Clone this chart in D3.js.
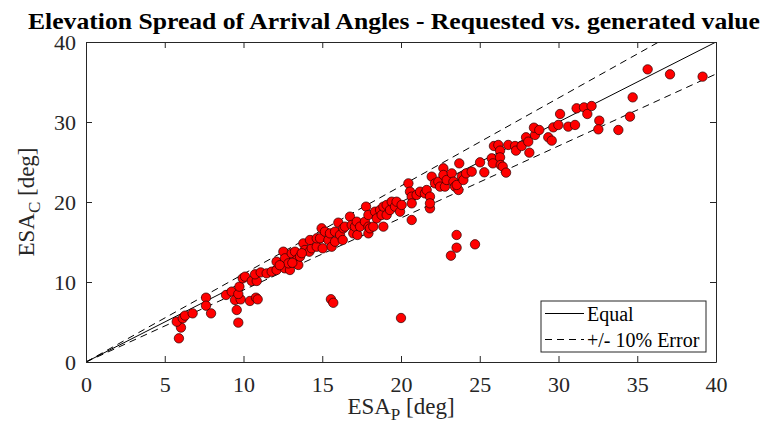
<!DOCTYPE html>
<html>
<head>
<meta charset="utf-8">
<script src="https://cdn.jsdelivr.net/npm/d3@7"></script>
<style>
  html, body { margin: 0; padding: 0; background: #fff; }
  svg { display: block; }
  text { font-family: "Liberation Serif", "Times New Roman", serif; }
</style>
</head>
<body>
<svg id="chart" width="763" height="428"></svg>
<script>
// ---- Data ----
const esaP = [
  5.9,6.03,5.76,6.14,6.29,6.77,7.62,7.62,7.94,9.57,9.67,8.89,9.25,9.46,9.82,9.67,9.74,9.95,10.1,10.41,10.79,10.9,10.52,10.84,10.73,11.09,11.47,
  11.79,12.1,12.1,12.53,12.63,12.63,12.95,12.85,13.06,13.27,13.38,13.48,13.59,13.8,13.9,14.18,14.33,14.22,14.65,14.65,14.86,14.96,15.03,15.17,15.39,15.49,15.6,15.81,15.81,16.02,16.13,16.34,16.3,16.44,16.76,16.87,16.97,17.08,17.19,17.23,17.4,17.71,17.93,17.93,17.78,17.93,12.3,13.1,13.7,
  18.03,18.24,18.35,18.46,18.67,18.77,18.88,18.88,19.09,19.09,19.3,19.41,19.62,19.72,19.94,20.04,20.47,20.57,20.68,20.68,20.68,20.99,21.21,21.52,21.63,21.84,21.84,21.84,
  21.95,22.16,22.37,22.69,22.69,22.48,22.79,22.9,23.22,23.33,23.43,23.65,23.54,23.7,23.86,23.96,24.13,24.49,25.02,25.29,25.76,25.83,25.9,26.18,26.29,26.29,26.33,26.46,26.67,26.81,27.24,27.3,27.66,27.94,28.08,28.15,
  28.51,28.44,28.78,29.35,29.57,29.67,29.99,30.1,30.62,31.05,31.15,31.62,31.83,32.1,32.59,32.53,
  35.66,37.08,39.15,34.71,34.54,33.8,
  15.55,15.7,20.0,23.53,23.53,24.7,23.17
];
const esaC = [
  2.96,4.3,5.04,5.46,5.8,6.08,8.04,7.04,6.08,6.5,4.92,8.38,8.8,7.75,7.83,8.5,9.42,10.46,10.67,7.63,8.04,7.83,10.13,10.13,10.96,11.2,11.08,
  11.29,11.5,12.54,13.79,12.96,11.71,11.5,12.33,13.58,13.79,12.75,12.13,13.17,14.83,14.0,13.79,14.21,15.25,14.41,15.46,15.46,16.71,14.21,16.29,15.25,16.08,14.41,15.04,16.29,17.42,15.88,16.71,15.25,16.92,18.17,17.13,16.08,16.92,17.54,15.88,16.92,17.54,16.92,16.08,19.42,18.38,12.1,12.4,13.6,
  16.71,16.92,18.79,17.96,19.0,18.38,16.92,19.42,19.63,18.38,19.0,20.04,19.42,20.04,18.79,19.63,22.33,21.29,20.67,19.83,17.75,20.88,21.29,21.08,21.5,20.67,19.21,19.83,
  23.17,22.33,22.54,24.21,23.38,21.92,21.92,22.75,23.58,22.54,21.92,21.5,22.13,24.83,23.17,22.75,23.58,23.79,24.96,23.71,25.46,24.83,27.0,27.13,26.42,25.58,24.63,24.42,23.67,27.13,27.0,26.42,27.0,28.09,27.54,26.17,
  28.38,29.29,29.0,28.09,27.67,29.33,29.63,31.0,29.42,29.63,31.71,31.83,31.0,32.0,30.17,29.08,
  36.58,35.96,35.67,33.08,30.67,29.0,
  7.85,7.4,5.5,15.88,14.29,14.71,13.29
];
const xTicks = [0, 5, 10, 15, 20, 25, 30, 35, 40];
const yTicks = [0, 10, 20, 30, 40];
const refSlopes = [1, 1.1, 0.9];            // equal line and +/- 10% error lines
const refNames = ["Equal", "+/- 10% Error"];
const titleText = "Elevation Spread of Arrival Angles - Requested vs. generated value";

// ---- Layout ----
const svg = d3.select("#chart");
const L = 86, R = 716, T = 42, B = 362;
const x = d3.scaleLinear().domain([0, 40]).range([L, R]);
const y = d3.scaleLinear().domain([0, 40]).range([B, T]);
const axisColor = "#262626";

// Title
svg.append("text")
  .attr("x", 28).attr("y", 29)
  .attr("font-size", 24).attr("font-weight", "bold")
  .attr("textLength", 732).attr("lengthAdjust", "spacingAndGlyphs")
  .text(titleText);

// Clip for plot area
svg.append("clipPath").attr("id", "clip")
  .append("rect").attr("x", L).attr("y", T).attr("width", R - L).attr("height", B - T);

// Reference lines
const plotG = svg.append("g").attr("clip-path", "url(#clip)");
refSlopes.forEach((s, i) => {
  const xEnd = Math.min(40, 40 / s);
  plotG.append("line")
    .attr("x1", x(0)).attr("y1", y(0))
    .attr("x2", x(xEnd)).attr("y2", y(s * xEnd))
    .attr("stroke", "#000").attr("stroke-width", 1)
    .attr("stroke-dasharray", i === 0 ? null : "7,5");
});

// Points
const pts = esaP.map((v, i) => [v, esaC[i]]);
plotG.selectAll("circle.pt").data(pts).enter().append("circle")
  .attr("class", "pt")
  .attr("cx", d => x(d[0])).attr("cy", d => y(d[1]))
  .attr("r", 4.7)
  .attr("fill", "#ff0000").attr("stroke", "#2a0000").attr("stroke-width", 0.7);

// Axes
function styleAxis(g) {
  g.select(".domain").attr("stroke", axisColor);
  g.selectAll(".tick line").attr("stroke", axisColor);
  g.selectAll(".tick text").attr("fill", axisColor)
    .attr("font-family", "Liberation Serif, Times New Roman, serif").attr("font-size", 22);
}
svg.append("g").attr("transform", `translate(0,${B})`)
  .call(d3.axisBottom(x).tickValues(xTicks).tickFormat(d3.format("d")).tickSizeInner(-6).tickSizeOuter(0).tickPadding(14))
  .call(styleAxis);
svg.append("g").attr("transform", `translate(${L},0)`)
  .call(d3.axisLeft(y).tickValues(yTicks).tickFormat(d3.format("d")).tickSizeInner(-6).tickSizeOuter(0).tickPadding(10))
  .call(styleAxis);
svg.append("g").attr("transform", `translate(0,${T})`)
  .call(d3.axisTop(x).tickValues(xTicks).tickFormat("").tickSizeInner(-6).tickSizeOuter(0))
  .call(styleAxis);
svg.append("g").attr("transform", `translate(${R},0)`)
  .call(d3.axisRight(y).tickValues(yTicks).tickFormat("").tickSizeInner(-6).tickSizeOuter(0))
  .call(styleAxis);

// Axis labels
const xl = svg.append("text").attr("x", (L + R) / 2).attr("y", 414)
  .attr("text-anchor", "middle").attr("font-size", 23).attr("fill", axisColor);
xl.append("tspan").text("ESA");
xl.append("tspan").attr("font-size", 17).attr("dy", 6).text("P");
xl.append("tspan").attr("dy", -6).text(" [deg]");

const yl = svg.append("text")
  .attr("transform", `translate(34,${(T + B) / 2}) rotate(-90)`)
  .attr("text-anchor", "middle").attr("font-size", 23).attr("fill", axisColor);
yl.append("tspan").text("ESA");
yl.append("tspan").attr("font-size", 17).attr("dy", 6).text("C");
yl.append("tspan").attr("dy", -6).text(" [deg]");

// Legend
const lg = svg.append("g");
lg.append("rect").attr("x", 541).attr("y", 301).attr("width", 165).attr("height", 51)
  .attr("fill", "#fff").attr("stroke", axisColor).attr("stroke-width", 1);
refNames.forEach((name, i) => {
  const yy = 313.5 + i * 26;
  lg.append("line").attr("x1", 545).attr("x2", 584).attr("y1", yy).attr("y2", yy)
    .attr("stroke", "#000").attr("stroke-width", 1)
    .attr("stroke-dasharray", i === 0 ? null : "7,5");
  lg.append("text").attr("x", 587).attr("y", yy + 7).attr("font-size", 20).attr("fill", "#000").text(name);
});
</script>
</body>
</html>
